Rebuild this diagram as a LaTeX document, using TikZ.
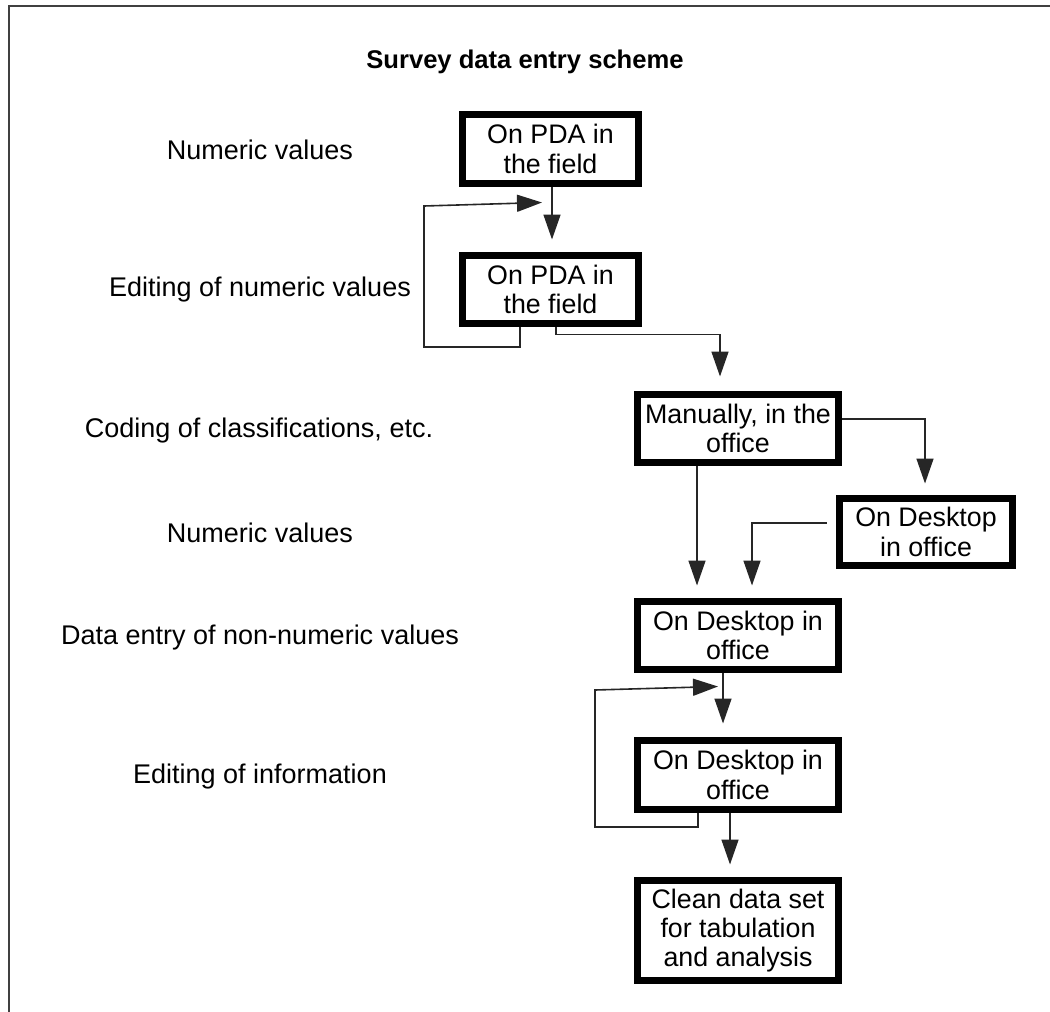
\documentclass[tikz,border=0pt]{standalone}
\usepackage{fontspec}
\setmainfont{Liberation Sans}
\usetikzlibrary{arrows.meta,calc}
\begin{document}
\begin{tikzpicture}[x=0.5pt,y=-0.5pt,
  box/.style={draw=black, line width=3.5pt, inner sep=0pt, align=center,
    font=\fontsize{13.4pt}{14.7pt}\selectfont},
  lbl/.style={font=\fontsize{13.5pt}{16pt}\selectfont, inner sep=0pt},
  conn/.style={draw=black!85, line width=0.8pt},
  arr/.style={conn, -{Triangle[length=12.5pt,width=8.5pt]}},
]
\useasboundingbox (0,0) rectangle (1050,1012);
\draw[black!75, line width=1pt] (9,1012) -- (9,6) -- (1050,6);

% title
\node[font=\bfseries\fontsize{12.8pt}{15pt}\selectfont, inner sep=0pt] (title) at (525,62) {Survey data entry scheme};

% left labels
\node[lbl] (l1) at (260,150) {Numeric values};
\node[lbl] (l2) at (260,290) {Editing of numeric values};
\node[lbl] (l3) at (259,431) {Coding of classifications, etc.};
\node[lbl] (l4) at (260,533) {Numeric values};
\node[lbl] (l5) at (260,638) {Data entry of non-numeric values};
\node[lbl] (l6) at (260,777) {Editing of information};

% boxes
\node[box, minimum width=88pt, minimum height=34.5pt] (B1) at (550.5,149) {On PDA in\\the field};
\node[box, minimum width=88pt, minimum height=34pt] (B2) at (550.5,289.5) {On PDA in\\the field};
\node[box, minimum width=100.5pt, minimum height=34pt] (B3) at (738,428.5) {Manually, in the\\office};
\node[box, minimum width=86.5pt, minimum height=33.5pt] (B4) at (926,532) {On Desktop\\in office};
\node[box, minimum width=100.5pt, minimum height=34pt] (B5) at (738,635.5) {On Desktop in\\office};
\node[box, minimum width=100.5pt, minimum height=34.5pt] (B6) at (738,775) {On Desktop in\\office};
\node[box, minimum width=100.5pt, minimum height=50pt] (B7) at (738,930.5) {Clean data set\\for tabulation\\and analysis};

% loop corners
\coordinate (L1a) at (424,347);
\coordinate (L1b) at (424,206);
\coordinate (L2a) at (595,827);
\coordinate (L2b) at (595,690);

% connectors
\draw[arr] ($(B1.south)+(1.5,0)$) -- ($(B2.north)+(1.5,-12.5)$);
\draw[arr] ($(B2.south)+(-30.5,0)$) |- (L1a) -- (L1b) -- ($(B2.north)+(-8.5,-49.5)$);
\draw[arr] ($(B2.south)+(5.5,0)$) |- ($(B3.north)+(-18,-56.5)$) -- ($(B3.north)+(-18,-14.5)$);
\draw[arr] ($(B3.east)+(0,-9.5)$) -| ($(B4.north)+(-1,-11.5)$);
\draw[arr] ($(B3.south)+(-41,0)$) -- ($(B5.north)+(-41,-12.5)$);
\draw[arr] ($(B4.west)+(-9.5,-9)$) -| ($(B5.north)+(14,-12.5)$);
\draw[arr] ($(B5.south)+(-15,0)$) -- ($(B6.north)+(-15,-13.5)$);
\draw[arr] ($(B6.south)+(-40,0)$) |- (L2a) -- (L2b) -- ($(B6.north)+(-20,-50.5)$);
\draw[arr] ($(B6.south)+(-8,0)$) -- ($(B7.north)+(-8,-12.5)$);
\end{tikzpicture}
\end{document}
